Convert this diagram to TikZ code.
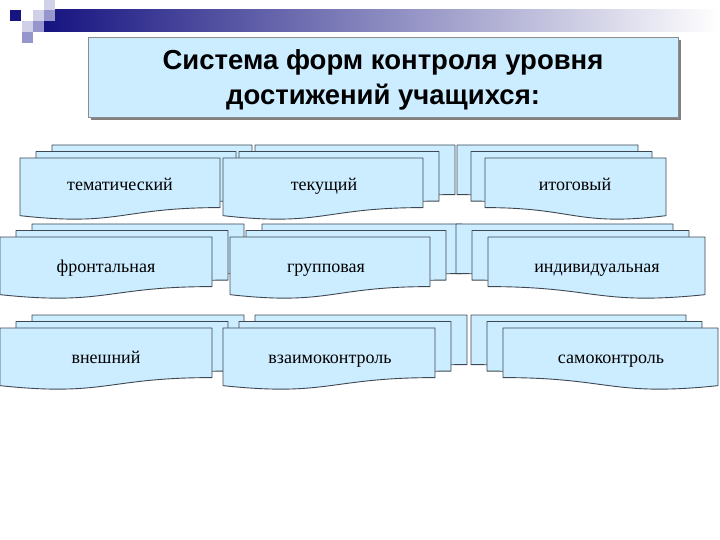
\documentclass[tikz,border=0pt]{standalone}
\usepackage{fontspec}
\setmainfont{Liberation Serif}
\newfontfamily\titlefont{Liberation Sans}
\usepackage{tikz}
\usetikzlibrary{shadows}
\definecolor{docblue}{RGB}{204,236,255}
\definecolor{docline}{RGB}{62,72,82}
\definecolor{navy}{RGB}{22,20,128}
\definecolor{lav}{RGB}{150,150,205}
\definecolor{palelav}{RGB}{208,208,232}
\tikzset{
    docbox/.style = {fill = docblue, draw = docline, line width = 0.9pt, line join = round},
    doclabel/.style = {font = \fontsize{18}{20}\selectfont, text height = 12pt, text depth = 4pt},
    titlebox/.style = {fill = docblue, draw = black!45, line width = 0.8pt,
        minimum width = 590pt, minimum height = 80pt,
        drop shadow = {shadow xshift = 3pt, shadow yshift = -3pt, fill = black!50, opacity = 1}},
    titletext/.style = {align = center, font = \titlefont\bfseries\fontsize{27.5}{35}\selectfont}
}
% one sheet: x, y, width, height
\newcommand{\docsheet}[4]{\draw[docbox] (#1,#2) -- ({#1+#3},#2) -- ({#1+#3},{#2+0.80*#4})
    .. controls ({#1+0.5*#3},{#2+0.80*#4}) and ({#1+0.5*#3},{#2+1.11*#4}) .. (#1,{#2+0.93*#4}) -- cycle;}
\newcommand{\docsheetm}[4]{\draw[docbox] (#1,#2) -- ({#1+#3},#2) -- ({#1+#3},{#2+0.93*#4})
    .. controls ({#1+0.5*#3},{#2+1.11*#4}) and ({#1+0.5*#3},{#2+0.80*#4}) .. (#1,{#2+0.80*#4}) -- cycle;}
% three sheets: front x, front y, width, shift
\newcommand{\stackL}[4]{\docsheet{#1+2*#4}{#2-13}{#3}{62}\docsheet{#1+#4}{#2-6.5}{#3}{62}\docsheet{#1}{#2}{#3}{62}}
\newcommand{\stackR}[4]{\docsheetm{#1-2*#4}{#2-13}{#3}{62}\docsheetm{#1-#4}{#2-6.5}{#3}{62}\docsheetm{#1}{#2}{#3}{62}}

\begin{document}
\begin{tikzpicture}[x = 1pt, y = -1pt]
    \useasboundingbox (0,0) rectangle (720,540);
    \shade[left color = navy, right color = white] (44,10) rectangle (720,32);
    \fill[navy] (10,10) rectangle (21,21);
    \fill[palelav] (44,0) rectangle (55,10);
    \fill[palelav] (33,10) rectangle (44,21);
    \fill[lav] (44,10) rectangle (55,21);
    \fill[palelav] (22,21) rectangle (33,32);
    \fill[lav] (33,21) rectangle (44,32);
    \fill[lav] (22,32) rectangle (33,43);

    \node[titlebox] (title) at (383,77) {};
    \node[titletext] (titlet) at (383,80) {Система форм контроля уровня\\достижений учащихся:};

    \stackL{20}{158}{200}{16}
    \stackL{223}{158}{200}{16}
    \stackR{485}{158}{181}{14}
    \stackL{0}{237}{212}{16}
    \stackL{230}{237}{200}{16}
    \stackR{488}{237}{217}{16}
    \stackL{0}{328}{212}{16}
    \stackL{223}{328}{212}{16}
    \stackR{503}{328}{215}{16}

    \node[doclabel] (them) at (120,187) {тематический};
    \node[doclabel] (tek) at (324,187) {текущий};
    \node[doclabel] (itog) at (575,187) {итоговый};
    \node[doclabel] (front) at (106,268) {фронтальная};
    \node[doclabel] (grup) at (326,268) {групповая};
    \node[doclabel] (indiv) at (597,268) {индивидуальная};
    \node[doclabel] (vnesh) at (106,359) {внешний};
    \node[doclabel] (vzaim) at (330,359) {взаимоконтроль};
    \node[doclabel] (samo) at (611,359) {самоконтроль};
    %\node[doclabel] at (360,450) {};
\end{tikzpicture}
\end{document}
